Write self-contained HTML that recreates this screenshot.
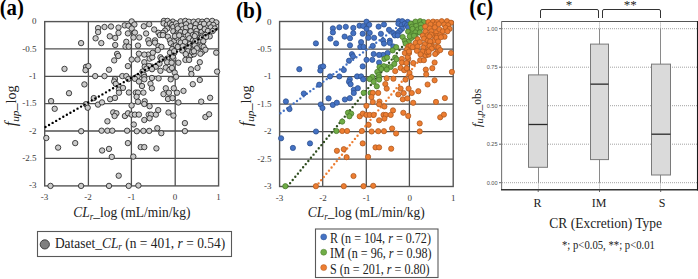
<!DOCTYPE html>
<html><head><meta charset="utf-8"><style>
html,body{margin:0;padding:0;background:#fff;width:698px;height:279px;overflow:hidden}
svg{display:block}
</style></head><body>
<svg width="698" height="279" viewBox="0 0 698 279" style="font-family:'Liberation Serif',serif">
<g transform="translate(-0.3,15) scale(1,1.12)"><text x="0" y="0" font-size="20.8" font-weight="bold" fill="#000">(a)</text></g>
<line x1="88.40" y1="21.6" x2="88.40" y2="185.9" stroke="#505050" stroke-width="1.3"/>
<line x1="131.40" y1="21.6" x2="131.40" y2="185.9" stroke="#505050" stroke-width="1.3"/>
<line x1="175.20" y1="21.6" x2="175.20" y2="185.9" stroke="#505050" stroke-width="1.3"/>
<line x1="44.7" y1="48.90" x2="218.6" y2="48.90" stroke="#505050" stroke-width="1.3"/>
<line x1="44.7" y1="76.30" x2="218.6" y2="76.30" stroke="#505050" stroke-width="1.3"/>
<line x1="44.7" y1="103.60" x2="218.6" y2="103.60" stroke="#505050" stroke-width="1.3"/>
<line x1="44.7" y1="131.00" x2="218.6" y2="131.00" stroke="#505050" stroke-width="1.3"/>
<line x1="44.7" y1="158.40" x2="218.6" y2="158.40" stroke="#505050" stroke-width="1.3"/>
<rect x="44.7" y="21.6" width="173.89999999999998" height="164.3" fill="none" stroke="#555" stroke-width="1.4"/>
<text x="36.5" y="24.20" text-anchor="end" font-size="9" fill="#3a3a3a">0</text>
<text x="36.5" y="51.53" text-anchor="end" font-size="9" fill="#3a3a3a">-0.5</text>
<text x="36.5" y="78.87" text-anchor="end" font-size="9" fill="#3a3a3a">-1</text>
<text x="36.5" y="106.20" text-anchor="end" font-size="9" fill="#3a3a3a">-1.5</text>
<text x="36.5" y="133.53" text-anchor="end" font-size="9" fill="#3a3a3a">-2</text>
<text x="36.5" y="160.87" text-anchor="end" font-size="9" fill="#3a3a3a">-2.5</text>
<text x="36.5" y="188.20" text-anchor="end" font-size="9" fill="#3a3a3a">-3</text>
<text x="44.50" y="199.8" text-anchor="middle" font-size="9" fill="#3a3a3a">-3</text>
<text x="88.00" y="199.8" text-anchor="middle" font-size="9" fill="#3a3a3a">-2</text>
<text x="131.50" y="199.8" text-anchor="middle" font-size="9" fill="#3a3a3a">-1</text>
<text x="175.00" y="199.8" text-anchor="middle" font-size="9" fill="#3a3a3a">0</text>
<text x="218.50" y="199.8" text-anchor="middle" font-size="9" fill="#3a3a3a">1</text>
<circle cx="81.1" cy="43.1" r="2.7" fill="#cacaca" stroke="#262626" stroke-width="0.85"/>
<circle cx="98.1" cy="28.1" r="2.7" fill="#cacaca" stroke="#262626" stroke-width="0.85"/>
<circle cx="98.1" cy="32.1" r="2.7" fill="#cacaca" stroke="#262626" stroke-width="0.85"/>
<circle cx="104.5" cy="27.0" r="2.7" fill="#cacaca" stroke="#262626" stroke-width="0.85"/>
<circle cx="111.0" cy="26.5" r="2.7" fill="#cacaca" stroke="#262626" stroke-width="0.85"/>
<circle cx="118.5" cy="27.6" r="2.7" fill="#cacaca" stroke="#262626" stroke-width="0.85"/>
<circle cx="118.5" cy="32.9" r="2.7" fill="#cacaca" stroke="#262626" stroke-width="0.85"/>
<circle cx="95.6" cy="38.3" r="2.7" fill="#cacaca" stroke="#262626" stroke-width="0.85"/>
<circle cx="101.3" cy="43.1" r="2.7" fill="#cacaca" stroke="#262626" stroke-width="0.85"/>
<circle cx="109.8" cy="36.3" r="2.7" fill="#cacaca" stroke="#262626" stroke-width="0.85"/>
<circle cx="115.2" cy="37.9" r="2.7" fill="#cacaca" stroke="#262626" stroke-width="0.85"/>
<circle cx="115.2" cy="45.0" r="2.7" fill="#cacaca" stroke="#262626" stroke-width="0.85"/>
<circle cx="124.7" cy="25.4" r="2.7" fill="#cacaca" stroke="#262626" stroke-width="0.85"/>
<circle cx="128.4" cy="25.7" r="2.7" fill="#cacaca" stroke="#262626" stroke-width="0.85"/>
<circle cx="127.9" cy="33.4" r="2.7" fill="#cacaca" stroke="#262626" stroke-width="0.85"/>
<circle cx="126.3" cy="41.8" r="2.7" fill="#cacaca" stroke="#262626" stroke-width="0.85"/>
<circle cx="125.5" cy="46.6" r="2.7" fill="#cacaca" stroke="#262626" stroke-width="0.85"/>
<circle cx="128.7" cy="46.6" r="2.7" fill="#cacaca" stroke="#262626" stroke-width="0.85"/>
<circle cx="117.1" cy="53.9" r="2.7" fill="#cacaca" stroke="#262626" stroke-width="0.85"/>
<circle cx="118.2" cy="56.0" r="2.7" fill="#cacaca" stroke="#262626" stroke-width="0.85"/>
<circle cx="114.2" cy="60.4" r="2.7" fill="#cacaca" stroke="#262626" stroke-width="0.85"/>
<circle cx="131.7" cy="21.4" r="2.7" fill="#cacaca" stroke="#262626" stroke-width="0.85"/>
<circle cx="134.4" cy="24.5" r="2.7" fill="#cacaca" stroke="#262626" stroke-width="0.85"/>
<circle cx="131.7" cy="28.5" r="2.7" fill="#cacaca" stroke="#262626" stroke-width="0.85"/>
<circle cx="134.9" cy="32.6" r="2.7" fill="#cacaca" stroke="#262626" stroke-width="0.85"/>
<circle cx="133.5" cy="37.5" r="2.7" fill="#cacaca" stroke="#262626" stroke-width="0.85"/>
<circle cx="139.3" cy="37.5" r="2.7" fill="#cacaca" stroke="#262626" stroke-width="0.85"/>
<circle cx="143.8" cy="26.3" r="2.7" fill="#cacaca" stroke="#262626" stroke-width="0.85"/>
<circle cx="146.1" cy="33.5" r="2.7" fill="#cacaca" stroke="#262626" stroke-width="0.85"/>
<circle cx="148.3" cy="40.2" r="2.7" fill="#cacaca" stroke="#262626" stroke-width="0.85"/>
<circle cx="172.8" cy="21.6" r="2.7" fill="#cacaca" stroke="#262626" stroke-width="0.85"/>
<circle cx="64.5" cy="68.9" r="2.7" fill="#cacaca" stroke="#262626" stroke-width="0.85"/>
<circle cx="86.0" cy="66.9" r="2.7" fill="#cacaca" stroke="#262626" stroke-width="0.85"/>
<circle cx="88.4" cy="66.1" r="2.7" fill="#cacaca" stroke="#262626" stroke-width="0.85"/>
<circle cx="85.5" cy="70.2" r="2.7" fill="#cacaca" stroke="#262626" stroke-width="0.85"/>
<circle cx="84.4" cy="84.4" r="2.7" fill="#cacaca" stroke="#262626" stroke-width="0.85"/>
<circle cx="69.0" cy="93.2" r="2.7" fill="#cacaca" stroke="#262626" stroke-width="0.85"/>
<circle cx="95.2" cy="76.1" r="2.7" fill="#cacaca" stroke="#262626" stroke-width="0.85"/>
<circle cx="104.5" cy="76.1" r="2.7" fill="#cacaca" stroke="#262626" stroke-width="0.85"/>
<circle cx="109.0" cy="69.7" r="2.7" fill="#cacaca" stroke="#262626" stroke-width="0.85"/>
<circle cx="127.9" cy="66.1" r="2.7" fill="#cacaca" stroke="#262626" stroke-width="0.85"/>
<circle cx="122.3" cy="76.1" r="2.7" fill="#cacaca" stroke="#262626" stroke-width="0.85"/>
<circle cx="126.3" cy="76.1" r="2.7" fill="#cacaca" stroke="#262626" stroke-width="0.85"/>
<circle cx="115.0" cy="79.0" r="2.7" fill="#cacaca" stroke="#262626" stroke-width="0.85"/>
<circle cx="114.2" cy="81.5" r="2.7" fill="#cacaca" stroke="#262626" stroke-width="0.85"/>
<circle cx="115.8" cy="83.9" r="2.7" fill="#cacaca" stroke="#262626" stroke-width="0.85"/>
<circle cx="119.0" cy="89.5" r="2.7" fill="#cacaca" stroke="#262626" stroke-width="0.85"/>
<circle cx="123.0" cy="87.9" r="2.7" fill="#cacaca" stroke="#262626" stroke-width="0.85"/>
<circle cx="119.0" cy="92.7" r="2.7" fill="#cacaca" stroke="#262626" stroke-width="0.85"/>
<circle cx="128.4" cy="79.0" r="2.7" fill="#cacaca" stroke="#262626" stroke-width="0.85"/>
<circle cx="138.0" cy="45.6" r="2.7" fill="#cacaca" stroke="#262626" stroke-width="0.85"/>
<circle cx="148.3" cy="54.6" r="2.7" fill="#cacaca" stroke="#262626" stroke-width="0.85"/>
<circle cx="144.3" cy="54.6" r="2.7" fill="#cacaca" stroke="#262626" stroke-width="0.85"/>
<circle cx="138.9" cy="53.7" r="2.7" fill="#cacaca" stroke="#262626" stroke-width="0.85"/>
<circle cx="137.5" cy="59.5" r="2.7" fill="#cacaca" stroke="#262626" stroke-width="0.85"/>
<circle cx="131.7" cy="59.5" r="2.7" fill="#cacaca" stroke="#262626" stroke-width="0.85"/>
<circle cx="149.6" cy="58.6" r="2.7" fill="#cacaca" stroke="#262626" stroke-width="0.85"/>
<circle cx="152.3" cy="57.3" r="2.7" fill="#cacaca" stroke="#262626" stroke-width="0.85"/>
<circle cx="160.4" cy="57.3" r="2.7" fill="#cacaca" stroke="#262626" stroke-width="0.85"/>
<circle cx="161.7" cy="59.0" r="2.7" fill="#cacaca" stroke="#262626" stroke-width="0.85"/>
<circle cx="167.1" cy="58.6" r="2.7" fill="#cacaca" stroke="#262626" stroke-width="0.85"/>
<circle cx="173.4" cy="58.6" r="2.7" fill="#cacaca" stroke="#262626" stroke-width="0.85"/>
<circle cx="144.3" cy="62.2" r="2.7" fill="#cacaca" stroke="#262626" stroke-width="0.85"/>
<circle cx="172.8" cy="56.6" r="2.7" fill="#cacaca" stroke="#262626" stroke-width="0.85"/>
<circle cx="191.0" cy="55.2" r="2.7" fill="#cacaca" stroke="#262626" stroke-width="0.85"/>
<circle cx="193.8" cy="54.3" r="2.7" fill="#cacaca" stroke="#262626" stroke-width="0.85"/>
<circle cx="185.4" cy="59.9" r="2.7" fill="#cacaca" stroke="#262626" stroke-width="0.85"/>
<circle cx="189.1" cy="59.9" r="2.7" fill="#cacaca" stroke="#262626" stroke-width="0.85"/>
<circle cx="199.8" cy="62.2" r="2.7" fill="#cacaca" stroke="#262626" stroke-width="0.85"/>
<circle cx="178.4" cy="62.7" r="2.7" fill="#cacaca" stroke="#262626" stroke-width="0.85"/>
<circle cx="144.7" cy="66.7" r="2.7" fill="#cacaca" stroke="#262626" stroke-width="0.85"/>
<circle cx="151.9" cy="66.7" r="2.7" fill="#cacaca" stroke="#262626" stroke-width="0.85"/>
<circle cx="155.9" cy="66.7" r="2.7" fill="#cacaca" stroke="#262626" stroke-width="0.85"/>
<circle cx="159.5" cy="63.6" r="2.7" fill="#cacaca" stroke="#262626" stroke-width="0.85"/>
<circle cx="167.1" cy="62.2" r="2.7" fill="#cacaca" stroke="#262626" stroke-width="0.85"/>
<circle cx="171.6" cy="62.7" r="2.7" fill="#cacaca" stroke="#262626" stroke-width="0.85"/>
<circle cx="165.8" cy="67.6" r="2.7" fill="#cacaca" stroke="#262626" stroke-width="0.85"/>
<circle cx="169.4" cy="69.9" r="2.7" fill="#cacaca" stroke="#262626" stroke-width="0.85"/>
<circle cx="160.4" cy="70.8" r="2.7" fill="#cacaca" stroke="#262626" stroke-width="0.85"/>
<circle cx="142.5" cy="71.6" r="2.7" fill="#cacaca" stroke="#262626" stroke-width="0.85"/>
<circle cx="143.8" cy="74.8" r="2.7" fill="#cacaca" stroke="#262626" stroke-width="0.85"/>
<circle cx="144.3" cy="77.0" r="2.7" fill="#cacaca" stroke="#262626" stroke-width="0.85"/>
<circle cx="144.3" cy="79.3" r="2.7" fill="#cacaca" stroke="#262626" stroke-width="0.85"/>
<circle cx="137.5" cy="76.6" r="2.7" fill="#cacaca" stroke="#262626" stroke-width="0.85"/>
<circle cx="134.9" cy="78.8" r="2.7" fill="#cacaca" stroke="#262626" stroke-width="0.85"/>
<circle cx="138.9" cy="81.5" r="2.7" fill="#cacaca" stroke="#262626" stroke-width="0.85"/>
<circle cx="151.9" cy="78.0" r="2.7" fill="#cacaca" stroke="#262626" stroke-width="0.85"/>
<circle cx="158.6" cy="78.4" r="2.7" fill="#cacaca" stroke="#262626" stroke-width="0.85"/>
<circle cx="170.7" cy="79.3" r="2.7" fill="#cacaca" stroke="#262626" stroke-width="0.85"/>
<circle cx="150.5" cy="83.7" r="2.7" fill="#cacaca" stroke="#262626" stroke-width="0.85"/>
<circle cx="197.5" cy="67.9" r="2.7" fill="#cacaca" stroke="#262626" stroke-width="0.85"/>
<circle cx="191.0" cy="69.3" r="2.7" fill="#cacaca" stroke="#262626" stroke-width="0.85"/>
<circle cx="191.4" cy="74.0" r="2.7" fill="#cacaca" stroke="#262626" stroke-width="0.85"/>
<circle cx="217.1" cy="71.6" r="2.7" fill="#cacaca" stroke="#262626" stroke-width="0.85"/>
<circle cx="174.7" cy="72.6" r="2.7" fill="#cacaca" stroke="#262626" stroke-width="0.85"/>
<circle cx="171.9" cy="67.9" r="2.7" fill="#cacaca" stroke="#262626" stroke-width="0.85"/>
<circle cx="176.1" cy="76.8" r="2.7" fill="#cacaca" stroke="#262626" stroke-width="0.85"/>
<circle cx="199.8" cy="80.0" r="2.7" fill="#cacaca" stroke="#262626" stroke-width="0.85"/>
<circle cx="192.8" cy="84.2" r="2.7" fill="#cacaca" stroke="#262626" stroke-width="0.85"/>
<circle cx="51.1" cy="101.1" r="2.7" fill="#cacaca" stroke="#262626" stroke-width="0.85"/>
<circle cx="54.7" cy="108.8" r="2.7" fill="#cacaca" stroke="#262626" stroke-width="0.85"/>
<circle cx="93.8" cy="98.1" r="2.7" fill="#cacaca" stroke="#262626" stroke-width="0.85"/>
<circle cx="98.0" cy="104.6" r="2.7" fill="#cacaca" stroke="#262626" stroke-width="0.85"/>
<circle cx="102.0" cy="102.4" r="2.7" fill="#cacaca" stroke="#262626" stroke-width="0.85"/>
<circle cx="110.1" cy="99.2" r="2.7" fill="#cacaca" stroke="#262626" stroke-width="0.85"/>
<circle cx="115.0" cy="97.9" r="2.7" fill="#cacaca" stroke="#262626" stroke-width="0.85"/>
<circle cx="128.9" cy="92.5" r="2.7" fill="#cacaca" stroke="#262626" stroke-width="0.85"/>
<circle cx="131.6" cy="105.5" r="2.7" fill="#cacaca" stroke="#262626" stroke-width="0.85"/>
<circle cx="85.9" cy="104.2" r="2.7" fill="#cacaca" stroke="#262626" stroke-width="0.85"/>
<circle cx="87.7" cy="107.7" r="2.7" fill="#cacaca" stroke="#262626" stroke-width="0.85"/>
<circle cx="113.2" cy="112.4" r="2.7" fill="#cacaca" stroke="#262626" stroke-width="0.85"/>
<circle cx="116.4" cy="113.3" r="2.7" fill="#cacaca" stroke="#262626" stroke-width="0.85"/>
<circle cx="114.6" cy="116.0" r="2.7" fill="#cacaca" stroke="#262626" stroke-width="0.85"/>
<circle cx="124.9" cy="116.0" r="2.7" fill="#cacaca" stroke="#262626" stroke-width="0.85"/>
<circle cx="128.0" cy="113.3" r="2.7" fill="#cacaca" stroke="#262626" stroke-width="0.85"/>
<circle cx="131.6" cy="114.6" r="2.7" fill="#cacaca" stroke="#262626" stroke-width="0.85"/>
<circle cx="107.4" cy="121.3" r="2.7" fill="#cacaca" stroke="#262626" stroke-width="0.85"/>
<circle cx="133.8" cy="124.5" r="2.7" fill="#cacaca" stroke="#262626" stroke-width="0.85"/>
<circle cx="101.6" cy="130.7" r="2.7" fill="#cacaca" stroke="#262626" stroke-width="0.85"/>
<circle cx="107.4" cy="130.7" r="2.7" fill="#cacaca" stroke="#262626" stroke-width="0.85"/>
<circle cx="112.3" cy="130.7" r="2.7" fill="#cacaca" stroke="#262626" stroke-width="0.85"/>
<circle cx="127.1" cy="130.7" r="2.7" fill="#cacaca" stroke="#262626" stroke-width="0.85"/>
<circle cx="46.3" cy="138.0" r="2.7" fill="#cacaca" stroke="#262626" stroke-width="0.85"/>
<circle cx="81.2" cy="131.2" r="2.7" fill="#cacaca" stroke="#262626" stroke-width="0.85"/>
<circle cx="136.8" cy="131.2" r="2.7" fill="#cacaca" stroke="#262626" stroke-width="0.85"/>
<circle cx="142.0" cy="86.0" r="2.7" fill="#cacaca" stroke="#262626" stroke-width="0.85"/>
<circle cx="151.9" cy="88.3" r="2.7" fill="#cacaca" stroke="#262626" stroke-width="0.85"/>
<circle cx="135.8" cy="92.6" r="2.7" fill="#cacaca" stroke="#262626" stroke-width="0.85"/>
<circle cx="138.0" cy="92.6" r="2.7" fill="#cacaca" stroke="#262626" stroke-width="0.85"/>
<circle cx="143.4" cy="92.6" r="2.7" fill="#cacaca" stroke="#262626" stroke-width="0.85"/>
<circle cx="136.6" cy="96.8" r="2.7" fill="#cacaca" stroke="#262626" stroke-width="0.85"/>
<circle cx="138.0" cy="101.7" r="2.7" fill="#cacaca" stroke="#262626" stroke-width="0.85"/>
<circle cx="144.7" cy="101.3" r="2.7" fill="#cacaca" stroke="#262626" stroke-width="0.85"/>
<circle cx="144.3" cy="104.0" r="2.7" fill="#cacaca" stroke="#262626" stroke-width="0.85"/>
<circle cx="149.6" cy="106.2" r="2.7" fill="#cacaca" stroke="#262626" stroke-width="0.85"/>
<circle cx="165.8" cy="88.3" r="2.7" fill="#cacaca" stroke="#262626" stroke-width="0.85"/>
<circle cx="168.9" cy="92.8" r="2.7" fill="#cacaca" stroke="#262626" stroke-width="0.85"/>
<circle cx="163.5" cy="94.1" r="2.7" fill="#cacaca" stroke="#262626" stroke-width="0.85"/>
<circle cx="168.0" cy="99.0" r="2.7" fill="#cacaca" stroke="#262626" stroke-width="0.85"/>
<circle cx="172.5" cy="98.1" r="2.7" fill="#cacaca" stroke="#262626" stroke-width="0.85"/>
<circle cx="173.8" cy="88.3" r="2.7" fill="#cacaca" stroke="#262626" stroke-width="0.85"/>
<circle cx="177.0" cy="92.7" r="2.7" fill="#cacaca" stroke="#262626" stroke-width="0.85"/>
<circle cx="183.5" cy="90.9" r="2.7" fill="#cacaca" stroke="#262626" stroke-width="0.85"/>
<circle cx="178.4" cy="102.5" r="2.7" fill="#cacaca" stroke="#262626" stroke-width="0.85"/>
<circle cx="201.2" cy="101.6" r="2.7" fill="#cacaca" stroke="#262626" stroke-width="0.85"/>
<circle cx="210.1" cy="97.8" r="2.7" fill="#cacaca" stroke="#262626" stroke-width="0.85"/>
<circle cx="58.1" cy="147.6" r="2.7" fill="#cacaca" stroke="#262626" stroke-width="0.85"/>
<circle cx="75.2" cy="143.1" r="2.7" fill="#cacaca" stroke="#262626" stroke-width="0.85"/>
<circle cx="127.9" cy="143.1" r="2.7" fill="#cacaca" stroke="#262626" stroke-width="0.85"/>
<circle cx="102.1" cy="150.5" r="2.7" fill="#cacaca" stroke="#262626" stroke-width="0.85"/>
<circle cx="109.0" cy="148.9" r="2.7" fill="#cacaca" stroke="#262626" stroke-width="0.85"/>
<circle cx="111.8" cy="156.9" r="2.7" fill="#cacaca" stroke="#262626" stroke-width="0.85"/>
<circle cx="134.9" cy="114.6" r="2.7" fill="#cacaca" stroke="#262626" stroke-width="0.85"/>
<circle cx="138.9" cy="114.6" r="2.7" fill="#cacaca" stroke="#262626" stroke-width="0.85"/>
<circle cx="148.7" cy="114.6" r="2.7" fill="#cacaca" stroke="#262626" stroke-width="0.85"/>
<circle cx="151.0" cy="114.6" r="2.7" fill="#cacaca" stroke="#262626" stroke-width="0.85"/>
<circle cx="155.9" cy="114.6" r="2.7" fill="#cacaca" stroke="#262626" stroke-width="0.85"/>
<circle cx="158.2" cy="110.1" r="2.7" fill="#cacaca" stroke="#262626" stroke-width="0.85"/>
<circle cx="149.6" cy="118.3" r="2.7" fill="#cacaca" stroke="#262626" stroke-width="0.85"/>
<circle cx="144.3" cy="120.0" r="2.7" fill="#cacaca" stroke="#262626" stroke-width="0.85"/>
<circle cx="168.5" cy="112.5" r="2.7" fill="#cacaca" stroke="#262626" stroke-width="0.85"/>
<circle cx="173.4" cy="115.6" r="2.7" fill="#cacaca" stroke="#262626" stroke-width="0.85"/>
<circle cx="157.3" cy="128.2" r="2.7" fill="#cacaca" stroke="#262626" stroke-width="0.85"/>
<circle cx="184.9" cy="123.1" r="2.7" fill="#cacaca" stroke="#262626" stroke-width="0.85"/>
<circle cx="205.4" cy="117.0" r="2.7" fill="#cacaca" stroke="#262626" stroke-width="0.85"/>
<circle cx="209.1" cy="114.3" r="2.7" fill="#cacaca" stroke="#262626" stroke-width="0.85"/>
<circle cx="143.4" cy="130.9" r="2.7" fill="#cacaca" stroke="#262626" stroke-width="0.85"/>
<circle cx="149.2" cy="130.9" r="2.7" fill="#cacaca" stroke="#262626" stroke-width="0.85"/>
<circle cx="161.3" cy="133.2" r="2.7" fill="#cacaca" stroke="#262626" stroke-width="0.85"/>
<circle cx="140.7" cy="147.1" r="2.7" fill="#cacaca" stroke="#262626" stroke-width="0.85"/>
<circle cx="144.3" cy="147.1" r="2.7" fill="#cacaca" stroke="#262626" stroke-width="0.85"/>
<circle cx="156.4" cy="148.4" r="2.7" fill="#cacaca" stroke="#262626" stroke-width="0.85"/>
<circle cx="184.9" cy="131.1" r="2.7" fill="#cacaca" stroke="#262626" stroke-width="0.85"/>
<circle cx="50.5" cy="185.9" r="2.7" fill="#cacaca" stroke="#262626" stroke-width="0.85"/>
<circle cx="81.1" cy="185.9" r="2.7" fill="#cacaca" stroke="#262626" stroke-width="0.85"/>
<circle cx="109.0" cy="185.9" r="2.7" fill="#cacaca" stroke="#262626" stroke-width="0.85"/>
<circle cx="128.7" cy="185.9" r="2.7" fill="#cacaca" stroke="#262626" stroke-width="0.85"/>
<circle cx="118.7" cy="175.7" r="2.7" fill="#cacaca" stroke="#262626" stroke-width="0.85"/>
<circle cx="133.3" cy="156.6" r="2.7" fill="#cacaca" stroke="#262626" stroke-width="0.85"/>
<circle cx="138.4" cy="185.5" r="2.7" fill="#cacaca" stroke="#262626" stroke-width="0.85"/>
<circle cx="163.9" cy="20.9" r="2.7" fill="#cacaca" stroke="#262626" stroke-width="0.85"/>
<circle cx="167.5" cy="20.9" r="2.7" fill="#cacaca" stroke="#262626" stroke-width="0.85"/>
<circle cx="163.6" cy="23.4" r="2.7" fill="#cacaca" stroke="#262626" stroke-width="0.85"/>
<circle cx="166.8" cy="24.9" r="2.7" fill="#cacaca" stroke="#262626" stroke-width="0.85"/>
<circle cx="170.0" cy="23.4" r="2.7" fill="#cacaca" stroke="#262626" stroke-width="0.85"/>
<circle cx="172.2" cy="24.9" r="2.7" fill="#cacaca" stroke="#262626" stroke-width="0.85"/>
<circle cx="173.3" cy="27.0" r="2.7" fill="#cacaca" stroke="#262626" stroke-width="0.85"/>
<circle cx="167.2" cy="28.5" r="2.7" fill="#cacaca" stroke="#262626" stroke-width="0.85"/>
<circle cx="165.0" cy="30.6" r="2.7" fill="#cacaca" stroke="#262626" stroke-width="0.85"/>
<circle cx="162.9" cy="32.8" r="2.7" fill="#cacaca" stroke="#262626" stroke-width="0.85"/>
<circle cx="158.5" cy="32.8" r="2.7" fill="#cacaca" stroke="#262626" stroke-width="0.85"/>
<circle cx="154.2" cy="29.5" r="2.7" fill="#cacaca" stroke="#262626" stroke-width="0.85"/>
<circle cx="149.2" cy="24.2" r="2.7" fill="#cacaca" stroke="#262626" stroke-width="0.85"/>
<circle cx="176.1" cy="23.4" r="2.7" fill="#cacaca" stroke="#262626" stroke-width="0.85"/>
<circle cx="177.2" cy="26.3" r="2.7" fill="#cacaca" stroke="#262626" stroke-width="0.85"/>
<circle cx="173.3" cy="31.3" r="2.7" fill="#cacaca" stroke="#262626" stroke-width="0.85"/>
<circle cx="176.5" cy="34.2" r="2.7" fill="#cacaca" stroke="#262626" stroke-width="0.85"/>
<circle cx="167.9" cy="36.7" r="2.7" fill="#cacaca" stroke="#262626" stroke-width="0.85"/>
<circle cx="177.9" cy="30.6" r="2.7" fill="#cacaca" stroke="#262626" stroke-width="0.85"/>
<circle cx="180.7" cy="21.3" r="2.7" fill="#cacaca" stroke="#262626" stroke-width="0.85"/>
<circle cx="185.3" cy="20.9" r="2.7" fill="#cacaca" stroke="#262626" stroke-width="0.85"/>
<circle cx="188.9" cy="21.7" r="2.7" fill="#cacaca" stroke="#262626" stroke-width="0.85"/>
<circle cx="181.4" cy="25.6" r="2.7" fill="#cacaca" stroke="#262626" stroke-width="0.85"/>
<circle cx="186.1" cy="24.2" r="2.7" fill="#cacaca" stroke="#262626" stroke-width="0.85"/>
<circle cx="177.8" cy="28.5" r="2.7" fill="#cacaca" stroke="#262626" stroke-width="0.85"/>
<circle cx="182.8" cy="29.2" r="2.7" fill="#cacaca" stroke="#262626" stroke-width="0.85"/>
<circle cx="186.1" cy="27.7" r="2.7" fill="#cacaca" stroke="#262626" stroke-width="0.85"/>
<circle cx="180.7" cy="32.1" r="2.7" fill="#cacaca" stroke="#262626" stroke-width="0.85"/>
<circle cx="185.0" cy="32.1" r="2.7" fill="#cacaca" stroke="#262626" stroke-width="0.85"/>
<circle cx="180.7" cy="35.7" r="2.7" fill="#cacaca" stroke="#262626" stroke-width="0.85"/>
<circle cx="193.6" cy="21.7" r="2.7" fill="#cacaca" stroke="#262626" stroke-width="0.85"/>
<circle cx="198.3" cy="21.3" r="2.7" fill="#cacaca" stroke="#262626" stroke-width="0.85"/>
<circle cx="202.2" cy="21.7" r="2.7" fill="#cacaca" stroke="#262626" stroke-width="0.85"/>
<circle cx="195.8" cy="24.2" r="2.7" fill="#cacaca" stroke="#262626" stroke-width="0.85"/>
<circle cx="200.8" cy="24.2" r="2.7" fill="#cacaca" stroke="#262626" stroke-width="0.85"/>
<circle cx="190.4" cy="26.3" r="2.7" fill="#cacaca" stroke="#262626" stroke-width="0.85"/>
<circle cx="195.0" cy="28.1" r="2.7" fill="#cacaca" stroke="#262626" stroke-width="0.85"/>
<circle cx="200.1" cy="27.0" r="2.7" fill="#cacaca" stroke="#262626" stroke-width="0.85"/>
<circle cx="190.7" cy="31.3" r="2.7" fill="#cacaca" stroke="#262626" stroke-width="0.85"/>
<circle cx="196.5" cy="31.0" r="2.7" fill="#cacaca" stroke="#262626" stroke-width="0.85"/>
<circle cx="201.5" cy="32.1" r="2.7" fill="#cacaca" stroke="#262626" stroke-width="0.85"/>
<circle cx="187.9" cy="35.3" r="2.7" fill="#cacaca" stroke="#262626" stroke-width="0.85"/>
<circle cx="192.9" cy="34.9" r="2.7" fill="#cacaca" stroke="#262626" stroke-width="0.85"/>
<circle cx="197.9" cy="34.9" r="2.7" fill="#cacaca" stroke="#262626" stroke-width="0.85"/>
<circle cx="202.2" cy="35.7" r="2.7" fill="#cacaca" stroke="#262626" stroke-width="0.85"/>
<circle cx="206.9" cy="20.9" r="2.7" fill="#cacaca" stroke="#262626" stroke-width="0.85"/>
<circle cx="212.2" cy="20.9" r="2.7" fill="#cacaca" stroke="#262626" stroke-width="0.85"/>
<circle cx="216.2" cy="22.4" r="2.7" fill="#cacaca" stroke="#262626" stroke-width="0.85"/>
<circle cx="204.0" cy="23.8" r="2.7" fill="#cacaca" stroke="#262626" stroke-width="0.85"/>
<circle cx="209.4" cy="24.2" r="2.7" fill="#cacaca" stroke="#262626" stroke-width="0.85"/>
<circle cx="213.3" cy="24.9" r="2.7" fill="#cacaca" stroke="#262626" stroke-width="0.85"/>
<circle cx="204.7" cy="29.2" r="2.7" fill="#cacaca" stroke="#262626" stroke-width="0.85"/>
<circle cx="210.8" cy="27.4" r="2.7" fill="#cacaca" stroke="#262626" stroke-width="0.85"/>
<circle cx="214.8" cy="28.5" r="2.7" fill="#cacaca" stroke="#262626" stroke-width="0.85"/>
<circle cx="207.9" cy="31.0" r="2.7" fill="#cacaca" stroke="#262626" stroke-width="0.85"/>
<circle cx="212.6" cy="31.0" r="2.7" fill="#cacaca" stroke="#262626" stroke-width="0.85"/>
<circle cx="196.1" cy="34.2" r="2.7" fill="#cacaca" stroke="#262626" stroke-width="0.85"/>
<circle cx="205.4" cy="34.9" r="2.7" fill="#cacaca" stroke="#262626" stroke-width="0.85"/>
<circle cx="209.7" cy="36.4" r="2.7" fill="#cacaca" stroke="#262626" stroke-width="0.85"/>
<circle cx="160.0" cy="35.1" r="2.7" fill="#cacaca" stroke="#262626" stroke-width="0.85"/>
<circle cx="162.9" cy="35.1" r="2.7" fill="#cacaca" stroke="#262626" stroke-width="0.85"/>
<circle cx="155.0" cy="40.4" r="2.7" fill="#cacaca" stroke="#262626" stroke-width="0.85"/>
<circle cx="155.0" cy="42.6" r="2.7" fill="#cacaca" stroke="#262626" stroke-width="0.85"/>
<circle cx="149.2" cy="43.3" r="2.7" fill="#cacaca" stroke="#262626" stroke-width="0.85"/>
<circle cx="158.5" cy="46.2" r="2.7" fill="#cacaca" stroke="#262626" stroke-width="0.85"/>
<circle cx="152.8" cy="52.7" r="2.7" fill="#cacaca" stroke="#262626" stroke-width="0.85"/>
<circle cx="170.0" cy="40.4" r="2.7" fill="#cacaca" stroke="#262626" stroke-width="0.85"/>
<circle cx="174.0" cy="41.2" r="2.7" fill="#cacaca" stroke="#262626" stroke-width="0.85"/>
<circle cx="176.5" cy="37.6" r="2.7" fill="#cacaca" stroke="#262626" stroke-width="0.85"/>
<circle cx="170.8" cy="43.3" r="2.7" fill="#cacaca" stroke="#262626" stroke-width="0.85"/>
<circle cx="161.4" cy="46.9" r="2.7" fill="#cacaca" stroke="#262626" stroke-width="0.85"/>
<circle cx="157.8" cy="50.1" r="2.7" fill="#cacaca" stroke="#262626" stroke-width="0.85"/>
<circle cx="173.6" cy="46.2" r="2.7" fill="#cacaca" stroke="#262626" stroke-width="0.85"/>
<circle cx="175.8" cy="45.5" r="2.7" fill="#cacaca" stroke="#262626" stroke-width="0.85"/>
<circle cx="172.2" cy="49.1" r="2.7" fill="#cacaca" stroke="#262626" stroke-width="0.85"/>
<circle cx="170.0" cy="52.7" r="2.7" fill="#cacaca" stroke="#262626" stroke-width="0.85"/>
<circle cx="174.3" cy="52.7" r="2.7" fill="#cacaca" stroke="#262626" stroke-width="0.85"/>
<circle cx="174.9" cy="36.1" r="2.7" fill="#cacaca" stroke="#262626" stroke-width="0.85"/>
<circle cx="179.2" cy="35.4" r="2.7" fill="#cacaca" stroke="#262626" stroke-width="0.85"/>
<circle cx="182.8" cy="39.0" r="2.7" fill="#cacaca" stroke="#262626" stroke-width="0.85"/>
<circle cx="189.3" cy="38.3" r="2.7" fill="#cacaca" stroke="#262626" stroke-width="0.85"/>
<circle cx="192.9" cy="40.4" r="2.7" fill="#cacaca" stroke="#262626" stroke-width="0.85"/>
<circle cx="199.3" cy="40.4" r="2.7" fill="#cacaca" stroke="#262626" stroke-width="0.85"/>
<circle cx="180.7" cy="42.6" r="2.7" fill="#cacaca" stroke="#262626" stroke-width="0.85"/>
<circle cx="185.0" cy="41.9" r="2.7" fill="#cacaca" stroke="#262626" stroke-width="0.85"/>
<circle cx="190.0" cy="44.0" r="2.7" fill="#cacaca" stroke="#262626" stroke-width="0.85"/>
<circle cx="195.0" cy="43.3" r="2.7" fill="#cacaca" stroke="#262626" stroke-width="0.85"/>
<circle cx="197.2" cy="46.2" r="2.7" fill="#cacaca" stroke="#262626" stroke-width="0.85"/>
<circle cx="177.8" cy="46.9" r="2.7" fill="#cacaca" stroke="#262626" stroke-width="0.85"/>
<circle cx="182.8" cy="46.2" r="2.7" fill="#cacaca" stroke="#262626" stroke-width="0.85"/>
<circle cx="188.6" cy="47.3" r="2.7" fill="#cacaca" stroke="#262626" stroke-width="0.85"/>
<circle cx="193.6" cy="49.1" r="2.7" fill="#cacaca" stroke="#262626" stroke-width="0.85"/>
<circle cx="182.1" cy="50.5" r="2.7" fill="#cacaca" stroke="#262626" stroke-width="0.85"/>
<circle cx="187.9" cy="51.2" r="2.7" fill="#cacaca" stroke="#262626" stroke-width="0.85"/>
<circle cx="192.2" cy="51.9" r="2.7" fill="#cacaca" stroke="#262626" stroke-width="0.85"/>
<circle cx="174.2" cy="51.2" r="2.7" fill="#cacaca" stroke="#262626" stroke-width="0.85"/>
<circle cx="185.7" cy="54.1" r="2.7" fill="#cacaca" stroke="#262626" stroke-width="0.85"/>
<circle cx="201.5" cy="46.2" r="2.7" fill="#cacaca" stroke="#262626" stroke-width="0.85"/>
<circle cx="202.2" cy="51.9" r="2.7" fill="#cacaca" stroke="#262626" stroke-width="0.85"/>
<circle cx="194.7" cy="36.1" r="2.7" fill="#cacaca" stroke="#262626" stroke-width="0.85"/>
<circle cx="201.8" cy="37.6" r="2.7" fill="#cacaca" stroke="#262626" stroke-width="0.85"/>
<circle cx="206.1" cy="36.9" r="2.7" fill="#cacaca" stroke="#262626" stroke-width="0.85"/>
<circle cx="203.3" cy="41.2" r="2.7" fill="#cacaca" stroke="#262626" stroke-width="0.85"/>
<circle cx="195.4" cy="41.2" r="2.7" fill="#cacaca" stroke="#262626" stroke-width="0.85"/>
<circle cx="194.7" cy="45.5" r="2.7" fill="#cacaca" stroke="#262626" stroke-width="0.85"/>
<circle cx="196.8" cy="48.3" r="2.7" fill="#cacaca" stroke="#262626" stroke-width="0.85"/>
<circle cx="203.6" cy="46.9" r="2.7" fill="#cacaca" stroke="#262626" stroke-width="0.85"/>
<circle cx="205.4" cy="49.8" r="2.7" fill="#cacaca" stroke="#262626" stroke-width="0.85"/>
<circle cx="193.9" cy="51.2" r="2.7" fill="#cacaca" stroke="#262626" stroke-width="0.85"/>
<circle cx="200.4" cy="53.7" r="2.7" fill="#cacaca" stroke="#262626" stroke-width="0.85"/>
<circle cx="216.2" cy="52.7" r="2.7" fill="#cacaca" stroke="#262626" stroke-width="0.85"/>
<circle cx="149.0" cy="65.9" r="2.7" fill="#cacaca" stroke="#262626" stroke-width="0.85"/>
<circle cx="152.0" cy="69.2" r="2.7" fill="#cacaca" stroke="#262626" stroke-width="0.85"/>
<circle cx="146.5" cy="68.7" r="2.7" fill="#cacaca" stroke="#262626" stroke-width="0.85"/>
<line x1="45.5" y1="127.0" x2="218" y2="28.2" stroke="#000" stroke-width="2.4" stroke-dasharray="0 4.1" stroke-linecap="round"/>
<g transform="translate(73.3,217) scale(1,1.12)"><text x="0" y="0" font-size="13.5" fill="#222"><tspan font-style="italic">CL</tspan><tspan font-style="italic" font-size="9" dy="2.5">r</tspan><tspan dy="-2.5">_log (mL/min/kg)</tspan></text></g>
<text transform="translate(16.2,126.3) rotate(-90)" font-size="14.2" fill="#222"><tspan font-style="italic" font-size="16">f</tspan><tspan font-style="italic" font-size="11.3" dy="3">up</tspan><tspan dy="-3">_log</tspan></text>
<rect x="37.5" y="231.5" width="194" height="25" fill="#fff" stroke="#595959" stroke-width="1.1"/>
<circle cx="44.8" cy="244.4" r="4.6" fill="#7f7f7f" stroke="#333" stroke-width="0.9"/>
<g transform="translate(54.9,247.5) scale(1,1.12)"><text x="0" y="0" font-size="13.45" fill="#222">Dataset_<tspan font-style="italic">CL</tspan><tspan font-style="italic" font-size="9" dy="2.5">r</tspan><tspan dy="-2.5"> (n = 401, </tspan><tspan font-style="italic">r</tspan> = 0.54)</text></g>
<g transform="translate(236,18.4) scale(1,1.12)"><text x="0" y="0" font-size="21.3" font-weight="bold" fill="#000">(b)</text></g>
<line x1="322.70" y1="21.5" x2="322.70" y2="186.5" stroke="#505050" stroke-width="1.3"/>
<line x1="366.30" y1="21.5" x2="366.30" y2="186.5" stroke="#505050" stroke-width="1.3"/>
<line x1="409.40" y1="21.5" x2="409.40" y2="186.5" stroke="#505050" stroke-width="1.3"/>
<line x1="279.6" y1="49.10" x2="453.2" y2="49.10" stroke="#505050" stroke-width="1.3"/>
<line x1="279.6" y1="76.60" x2="453.2" y2="76.60" stroke="#505050" stroke-width="1.3"/>
<line x1="279.6" y1="104.20" x2="453.2" y2="104.20" stroke="#505050" stroke-width="1.3"/>
<line x1="279.6" y1="131.60" x2="453.2" y2="131.60" stroke="#505050" stroke-width="1.3"/>
<line x1="279.6" y1="159.10" x2="453.2" y2="159.10" stroke="#505050" stroke-width="1.3"/>
<rect x="279.6" y="21.5" width="173.59999999999997" height="165.0" fill="none" stroke="#555" stroke-width="1.4"/>
<text x="271.6" y="24.60" text-anchor="end" font-size="9" fill="#3a3a3a">0</text>
<text x="271.6" y="52.03" text-anchor="end" font-size="9" fill="#3a3a3a">-0.5</text>
<text x="271.6" y="79.47" text-anchor="end" font-size="9" fill="#3a3a3a">-1</text>
<text x="271.6" y="106.90" text-anchor="end" font-size="9" fill="#3a3a3a">-1.5</text>
<text x="271.6" y="134.33" text-anchor="end" font-size="9" fill="#3a3a3a">-2</text>
<text x="271.6" y="161.77" text-anchor="end" font-size="9" fill="#3a3a3a">-2.5</text>
<text x="271.6" y="189.20" text-anchor="end" font-size="9" fill="#3a3a3a">-3</text>
<text x="279.60" y="200.8" text-anchor="middle" font-size="9" fill="#3a3a3a">-3</text>
<text x="323.00" y="200.8" text-anchor="middle" font-size="9" fill="#3a3a3a">-2</text>
<text x="366.40" y="200.8" text-anchor="middle" font-size="9" fill="#3a3a3a">-1</text>
<text x="409.80" y="200.8" text-anchor="middle" font-size="9" fill="#3a3a3a">0</text>
<text x="453.20" y="200.8" text-anchor="middle" font-size="9" fill="#3a3a3a">1</text>
<line x1="280.5" y1="113.2" x2="405" y2="21.5" stroke="#4472C4" stroke-width="2.4" stroke-dasharray="0 4.1" stroke-linecap="round"/>
<line x1="287.5" y1="186.3" x2="423" y2="21.5" stroke="#2f4d1f" stroke-width="2.4" stroke-dasharray="0 4.1" stroke-linecap="round"/>
<line x1="316" y1="186.5" x2="453" y2="19.1" stroke="#ED7D31" stroke-width="2.4" stroke-dasharray="0 4.1" stroke-linecap="round"/>
<circle cx="315.9" cy="43.4" r="2.6" fill="#4472C4" stroke="#2f528f" stroke-width="0.8"/>
<circle cx="332.9" cy="28.4" r="2.6" fill="#4472C4" stroke="#2f528f" stroke-width="0.8"/>
<circle cx="332.9" cy="32.4" r="2.6" fill="#4472C4" stroke="#2f528f" stroke-width="0.8"/>
<circle cx="339.3" cy="27.3" r="2.6" fill="#4472C4" stroke="#2f528f" stroke-width="0.8"/>
<circle cx="345.8" cy="26.8" r="2.6" fill="#4472C4" stroke="#2f528f" stroke-width="0.8"/>
<circle cx="353.3" cy="27.9" r="2.6" fill="#4472C4" stroke="#2f528f" stroke-width="0.8"/>
<circle cx="353.3" cy="33.2" r="2.6" fill="#4472C4" stroke="#2f528f" stroke-width="0.8"/>
<circle cx="330.4" cy="38.6" r="2.6" fill="#4472C4" stroke="#2f528f" stroke-width="0.8"/>
<circle cx="336.1" cy="43.4" r="2.6" fill="#4472C4" stroke="#2f528f" stroke-width="0.8"/>
<circle cx="344.6" cy="36.6" r="2.6" fill="#4472C4" stroke="#2f528f" stroke-width="0.8"/>
<circle cx="350.0" cy="38.2" r="2.6" fill="#4472C4" stroke="#2f528f" stroke-width="0.8"/>
<circle cx="350.0" cy="45.3" r="2.6" fill="#4472C4" stroke="#2f528f" stroke-width="0.8"/>
<circle cx="359.5" cy="25.7" r="2.6" fill="#4472C4" stroke="#2f528f" stroke-width="0.8"/>
<circle cx="363.2" cy="26.0" r="2.6" fill="#4472C4" stroke="#2f528f" stroke-width="0.8"/>
<circle cx="362.7" cy="33.7" r="2.6" fill="#4472C4" stroke="#2f528f" stroke-width="0.8"/>
<circle cx="361.1" cy="42.1" r="2.6" fill="#4472C4" stroke="#2f528f" stroke-width="0.8"/>
<circle cx="360.3" cy="46.9" r="2.6" fill="#4472C4" stroke="#2f528f" stroke-width="0.8"/>
<circle cx="363.5" cy="46.9" r="2.6" fill="#4472C4" stroke="#2f528f" stroke-width="0.8"/>
<circle cx="351.9" cy="54.2" r="2.6" fill="#4472C4" stroke="#2f528f" stroke-width="0.8"/>
<circle cx="353.0" cy="56.3" r="2.6" fill="#4472C4" stroke="#2f528f" stroke-width="0.8"/>
<circle cx="349.0" cy="60.7" r="2.6" fill="#4472C4" stroke="#2f528f" stroke-width="0.8"/>
<circle cx="366.5" cy="21.7" r="2.6" fill="#4472C4" stroke="#2f528f" stroke-width="0.8"/>
<circle cx="369.2" cy="24.8" r="2.6" fill="#4472C4" stroke="#2f528f" stroke-width="0.8"/>
<circle cx="366.5" cy="28.8" r="2.6" fill="#4472C4" stroke="#2f528f" stroke-width="0.8"/>
<circle cx="369.7" cy="32.9" r="2.6" fill="#4472C4" stroke="#2f528f" stroke-width="0.8"/>
<circle cx="368.3" cy="37.8" r="2.6" fill="#4472C4" stroke="#2f528f" stroke-width="0.8"/>
<circle cx="374.1" cy="37.8" r="2.6" fill="#4472C4" stroke="#2f528f" stroke-width="0.8"/>
<circle cx="378.6" cy="26.6" r="2.6" fill="#4472C4" stroke="#2f528f" stroke-width="0.8"/>
<circle cx="380.9" cy="33.8" r="2.6" fill="#4472C4" stroke="#2f528f" stroke-width="0.8"/>
<circle cx="383.1" cy="40.5" r="2.6" fill="#4472C4" stroke="#2f528f" stroke-width="0.8"/>
<circle cx="407.6" cy="21.9" r="2.6" fill="#4472C4" stroke="#2f528f" stroke-width="0.8"/>
<circle cx="299.3" cy="69.2" r="2.6" fill="#4472C4" stroke="#2f528f" stroke-width="0.8"/>
<circle cx="320.8" cy="67.2" r="2.6" fill="#4472C4" stroke="#2f528f" stroke-width="0.8"/>
<circle cx="323.2" cy="66.4" r="2.6" fill="#4472C4" stroke="#2f528f" stroke-width="0.8"/>
<circle cx="320.3" cy="70.5" r="2.6" fill="#4472C4" stroke="#2f528f" stroke-width="0.8"/>
<circle cx="319.2" cy="84.7" r="2.6" fill="#4472C4" stroke="#2f528f" stroke-width="0.8"/>
<circle cx="303.8" cy="93.5" r="2.6" fill="#4472C4" stroke="#2f528f" stroke-width="0.8"/>
<circle cx="330.0" cy="76.4" r="2.6" fill="#4472C4" stroke="#2f528f" stroke-width="0.8"/>
<circle cx="339.3" cy="76.4" r="2.6" fill="#4472C4" stroke="#2f528f" stroke-width="0.8"/>
<circle cx="343.8" cy="70.0" r="2.6" fill="#4472C4" stroke="#2f528f" stroke-width="0.8"/>
<circle cx="362.7" cy="66.4" r="2.6" fill="#4472C4" stroke="#2f528f" stroke-width="0.8"/>
<circle cx="357.1" cy="76.4" r="2.6" fill="#4472C4" stroke="#2f528f" stroke-width="0.8"/>
<circle cx="361.1" cy="76.4" r="2.6" fill="#4472C4" stroke="#2f528f" stroke-width="0.8"/>
<circle cx="349.8" cy="79.3" r="2.6" fill="#4472C4" stroke="#2f528f" stroke-width="0.8"/>
<circle cx="349.0" cy="81.8" r="2.6" fill="#4472C4" stroke="#2f528f" stroke-width="0.8"/>
<circle cx="350.6" cy="84.2" r="2.6" fill="#4472C4" stroke="#2f528f" stroke-width="0.8"/>
<circle cx="353.8" cy="89.8" r="2.6" fill="#4472C4" stroke="#2f528f" stroke-width="0.8"/>
<circle cx="357.8" cy="88.2" r="2.6" fill="#4472C4" stroke="#2f528f" stroke-width="0.8"/>
<circle cx="353.8" cy="93.0" r="2.6" fill="#4472C4" stroke="#2f528f" stroke-width="0.8"/>
<circle cx="363.2" cy="79.3" r="2.6" fill="#4472C4" stroke="#2f528f" stroke-width="0.8"/>
<circle cx="372.8" cy="45.9" r="2.6" fill="#4472C4" stroke="#2f528f" stroke-width="0.8"/>
<circle cx="383.1" cy="54.9" r="2.6" fill="#4472C4" stroke="#2f528f" stroke-width="0.8"/>
<circle cx="379.1" cy="54.9" r="2.6" fill="#4472C4" stroke="#2f528f" stroke-width="0.8"/>
<circle cx="373.7" cy="54.0" r="2.6" fill="#4472C4" stroke="#2f528f" stroke-width="0.8"/>
<circle cx="372.3" cy="59.8" r="2.6" fill="#4472C4" stroke="#2f528f" stroke-width="0.8"/>
<circle cx="366.5" cy="59.8" r="2.6" fill="#4472C4" stroke="#2f528f" stroke-width="0.8"/>
<circle cx="379.1" cy="62.5" r="2.6" fill="#4472C4" stroke="#2f528f" stroke-width="0.8"/>
<circle cx="285.9" cy="101.4" r="2.6" fill="#4472C4" stroke="#2f528f" stroke-width="0.8"/>
<circle cx="289.5" cy="109.1" r="2.6" fill="#4472C4" stroke="#2f528f" stroke-width="0.8"/>
<circle cx="328.6" cy="98.4" r="2.6" fill="#4472C4" stroke="#2f528f" stroke-width="0.8"/>
<circle cx="332.8" cy="104.9" r="2.6" fill="#4472C4" stroke="#2f528f" stroke-width="0.8"/>
<circle cx="336.8" cy="102.7" r="2.6" fill="#4472C4" stroke="#2f528f" stroke-width="0.8"/>
<circle cx="344.9" cy="99.5" r="2.6" fill="#4472C4" stroke="#2f528f" stroke-width="0.8"/>
<circle cx="349.8" cy="98.2" r="2.6" fill="#4472C4" stroke="#2f528f" stroke-width="0.8"/>
<circle cx="320.7" cy="104.5" r="2.6" fill="#4472C4" stroke="#2f528f" stroke-width="0.8"/>
<circle cx="322.5" cy="108.0" r="2.6" fill="#4472C4" stroke="#2f528f" stroke-width="0.8"/>
<circle cx="281.1" cy="138.3" r="2.6" fill="#4472C4" stroke="#2f528f" stroke-width="0.8"/>
<circle cx="316.0" cy="131.5" r="2.6" fill="#4472C4" stroke="#2f528f" stroke-width="0.8"/>
<circle cx="292.9" cy="147.9" r="2.6" fill="#4472C4" stroke="#2f528f" stroke-width="0.8"/>
<circle cx="310.0" cy="143.4" r="2.6" fill="#4472C4" stroke="#2f528f" stroke-width="0.8"/>
<circle cx="398.7" cy="21.2" r="2.6" fill="#4472C4" stroke="#2f528f" stroke-width="0.8"/>
<circle cx="402.3" cy="21.2" r="2.6" fill="#4472C4" stroke="#2f528f" stroke-width="0.8"/>
<circle cx="398.4" cy="23.7" r="2.6" fill="#4472C4" stroke="#2f528f" stroke-width="0.8"/>
<circle cx="401.6" cy="25.2" r="2.6" fill="#4472C4" stroke="#2f528f" stroke-width="0.8"/>
<circle cx="404.8" cy="23.7" r="2.6" fill="#4472C4" stroke="#2f528f" stroke-width="0.8"/>
<circle cx="407.0" cy="25.2" r="2.6" fill="#4472C4" stroke="#2f528f" stroke-width="0.8"/>
<circle cx="408.1" cy="27.3" r="2.6" fill="#4472C4" stroke="#2f528f" stroke-width="0.8"/>
<circle cx="402.0" cy="28.8" r="2.6" fill="#4472C4" stroke="#2f528f" stroke-width="0.8"/>
<circle cx="399.8" cy="30.9" r="2.6" fill="#4472C4" stroke="#2f528f" stroke-width="0.8"/>
<circle cx="397.7" cy="33.1" r="2.6" fill="#4472C4" stroke="#2f528f" stroke-width="0.8"/>
<circle cx="393.3" cy="33.1" r="2.6" fill="#4472C4" stroke="#2f528f" stroke-width="0.8"/>
<circle cx="389.0" cy="29.8" r="2.6" fill="#4472C4" stroke="#2f528f" stroke-width="0.8"/>
<circle cx="384.0" cy="24.5" r="2.6" fill="#4472C4" stroke="#2f528f" stroke-width="0.8"/>
<circle cx="394.8" cy="35.4" r="2.6" fill="#4472C4" stroke="#2f528f" stroke-width="0.8"/>
<circle cx="397.7" cy="35.4" r="2.6" fill="#4472C4" stroke="#2f528f" stroke-width="0.8"/>
<circle cx="389.8" cy="40.7" r="2.6" fill="#4472C4" stroke="#2f528f" stroke-width="0.8"/>
<circle cx="389.8" cy="42.9" r="2.6" fill="#4472C4" stroke="#2f528f" stroke-width="0.8"/>
<circle cx="384.0" cy="43.6" r="2.6" fill="#4472C4" stroke="#2f528f" stroke-width="0.8"/>
<circle cx="393.3" cy="46.5" r="2.6" fill="#4472C4" stroke="#2f528f" stroke-width="0.8"/>
<circle cx="387.6" cy="53.0" r="2.6" fill="#4472C4" stroke="#2f528f" stroke-width="0.8"/>
<circle cx="384.4" cy="58.9" r="2.6" fill="#70AD47" stroke="#4a7a2c" stroke-width="0.8"/>
<circle cx="387.1" cy="57.6" r="2.6" fill="#70AD47" stroke="#4a7a2c" stroke-width="0.8"/>
<circle cx="395.2" cy="57.6" r="2.6" fill="#70AD47" stroke="#4a7a2c" stroke-width="0.8"/>
<circle cx="396.5" cy="59.3" r="2.6" fill="#70AD47" stroke="#4a7a2c" stroke-width="0.8"/>
<circle cx="379.5" cy="67.0" r="2.6" fill="#70AD47" stroke="#4a7a2c" stroke-width="0.8"/>
<circle cx="386.7" cy="67.0" r="2.6" fill="#70AD47" stroke="#4a7a2c" stroke-width="0.8"/>
<circle cx="390.7" cy="67.0" r="2.6" fill="#70AD47" stroke="#4a7a2c" stroke-width="0.8"/>
<circle cx="394.3" cy="63.9" r="2.6" fill="#70AD47" stroke="#4a7a2c" stroke-width="0.8"/>
<circle cx="377.3" cy="71.9" r="2.6" fill="#70AD47" stroke="#4a7a2c" stroke-width="0.8"/>
<circle cx="378.6" cy="75.1" r="2.6" fill="#70AD47" stroke="#4a7a2c" stroke-width="0.8"/>
<circle cx="379.1" cy="77.3" r="2.6" fill="#70AD47" stroke="#4a7a2c" stroke-width="0.8"/>
<circle cx="379.1" cy="79.6" r="2.6" fill="#70AD47" stroke="#4a7a2c" stroke-width="0.8"/>
<circle cx="372.3" cy="76.9" r="2.6" fill="#70AD47" stroke="#4a7a2c" stroke-width="0.8"/>
<circle cx="369.7" cy="79.1" r="2.6" fill="#70AD47" stroke="#4a7a2c" stroke-width="0.8"/>
<circle cx="373.7" cy="81.8" r="2.6" fill="#70AD47" stroke="#4a7a2c" stroke-width="0.8"/>
<circle cx="363.7" cy="92.8" r="2.6" fill="#70AD47" stroke="#4a7a2c" stroke-width="0.8"/>
<circle cx="348.0" cy="112.7" r="2.6" fill="#70AD47" stroke="#4a7a2c" stroke-width="0.8"/>
<circle cx="351.2" cy="113.6" r="2.6" fill="#70AD47" stroke="#4a7a2c" stroke-width="0.8"/>
<circle cx="349.4" cy="116.3" r="2.6" fill="#70AD47" stroke="#4a7a2c" stroke-width="0.8"/>
<circle cx="342.2" cy="121.6" r="2.6" fill="#70AD47" stroke="#4a7a2c" stroke-width="0.8"/>
<circle cx="336.4" cy="131.0" r="2.6" fill="#70AD47" stroke="#4a7a2c" stroke-width="0.8"/>
<circle cx="376.8" cy="86.3" r="2.6" fill="#70AD47" stroke="#4a7a2c" stroke-width="0.8"/>
<circle cx="370.6" cy="92.9" r="2.6" fill="#70AD47" stroke="#4a7a2c" stroke-width="0.8"/>
<circle cx="285.3" cy="186.2" r="2.6" fill="#70AD47" stroke="#4a7a2c" stroke-width="0.8"/>
<circle cx="410.9" cy="23.7" r="2.6" fill="#70AD47" stroke="#4a7a2c" stroke-width="0.8"/>
<circle cx="412.0" cy="26.6" r="2.6" fill="#70AD47" stroke="#4a7a2c" stroke-width="0.8"/>
<circle cx="408.1" cy="31.6" r="2.6" fill="#70AD47" stroke="#4a7a2c" stroke-width="0.8"/>
<circle cx="411.3" cy="34.5" r="2.6" fill="#70AD47" stroke="#4a7a2c" stroke-width="0.8"/>
<circle cx="402.7" cy="37.0" r="2.6" fill="#70AD47" stroke="#4a7a2c" stroke-width="0.8"/>
<circle cx="412.7" cy="30.9" r="2.6" fill="#70AD47" stroke="#4a7a2c" stroke-width="0.8"/>
<circle cx="415.5" cy="21.6" r="2.6" fill="#70AD47" stroke="#4a7a2c" stroke-width="0.8"/>
<circle cx="420.1" cy="21.2" r="2.6" fill="#70AD47" stroke="#4a7a2c" stroke-width="0.8"/>
<circle cx="423.7" cy="22.0" r="2.6" fill="#70AD47" stroke="#4a7a2c" stroke-width="0.8"/>
<circle cx="416.2" cy="25.9" r="2.6" fill="#70AD47" stroke="#4a7a2c" stroke-width="0.8"/>
<circle cx="420.9" cy="24.5" r="2.6" fill="#70AD47" stroke="#4a7a2c" stroke-width="0.8"/>
<circle cx="412.6" cy="28.8" r="2.6" fill="#70AD47" stroke="#4a7a2c" stroke-width="0.8"/>
<circle cx="417.6" cy="29.5" r="2.6" fill="#70AD47" stroke="#4a7a2c" stroke-width="0.8"/>
<circle cx="420.9" cy="28.0" r="2.6" fill="#70AD47" stroke="#4a7a2c" stroke-width="0.8"/>
<circle cx="415.5" cy="32.4" r="2.6" fill="#70AD47" stroke="#4a7a2c" stroke-width="0.8"/>
<circle cx="419.8" cy="32.4" r="2.6" fill="#70AD47" stroke="#4a7a2c" stroke-width="0.8"/>
<circle cx="415.5" cy="36.0" r="2.6" fill="#70AD47" stroke="#4a7a2c" stroke-width="0.8"/>
<circle cx="404.8" cy="40.7" r="2.6" fill="#70AD47" stroke="#4a7a2c" stroke-width="0.8"/>
<circle cx="408.8" cy="41.5" r="2.6" fill="#70AD47" stroke="#4a7a2c" stroke-width="0.8"/>
<circle cx="411.3" cy="37.9" r="2.6" fill="#70AD47" stroke="#4a7a2c" stroke-width="0.8"/>
<circle cx="405.6" cy="43.6" r="2.6" fill="#70AD47" stroke="#4a7a2c" stroke-width="0.8"/>
<circle cx="396.2" cy="47.2" r="2.6" fill="#70AD47" stroke="#4a7a2c" stroke-width="0.8"/>
<circle cx="392.6" cy="50.4" r="2.6" fill="#70AD47" stroke="#4a7a2c" stroke-width="0.8"/>
<circle cx="409.7" cy="36.4" r="2.6" fill="#70AD47" stroke="#4a7a2c" stroke-width="0.8"/>
<circle cx="414.0" cy="35.7" r="2.6" fill="#70AD47" stroke="#4a7a2c" stroke-width="0.8"/>
<circle cx="383.8" cy="66.2" r="2.6" fill="#70AD47" stroke="#4a7a2c" stroke-width="0.8"/>
<circle cx="386.8" cy="69.5" r="2.6" fill="#70AD47" stroke="#4a7a2c" stroke-width="0.8"/>
<circle cx="381.3" cy="69.0" r="2.6" fill="#70AD47" stroke="#4a7a2c" stroke-width="0.8"/>
<circle cx="401.9" cy="58.9" r="2.6" fill="#ED7D31" stroke="#ae5a21" stroke-width="0.8"/>
<circle cx="408.2" cy="58.9" r="2.6" fill="#ED7D31" stroke="#ae5a21" stroke-width="0.8"/>
<circle cx="407.6" cy="56.9" r="2.6" fill="#ED7D31" stroke="#ae5a21" stroke-width="0.8"/>
<circle cx="425.8" cy="55.5" r="2.6" fill="#ED7D31" stroke="#ae5a21" stroke-width="0.8"/>
<circle cx="428.6" cy="54.6" r="2.6" fill="#ED7D31" stroke="#ae5a21" stroke-width="0.8"/>
<circle cx="420.2" cy="60.2" r="2.6" fill="#ED7D31" stroke="#ae5a21" stroke-width="0.8"/>
<circle cx="423.9" cy="60.2" r="2.6" fill="#ED7D31" stroke="#ae5a21" stroke-width="0.8"/>
<circle cx="434.6" cy="62.5" r="2.6" fill="#ED7D31" stroke="#ae5a21" stroke-width="0.8"/>
<circle cx="413.2" cy="63.0" r="2.6" fill="#ED7D31" stroke="#ae5a21" stroke-width="0.8"/>
<circle cx="401.9" cy="62.5" r="2.6" fill="#ED7D31" stroke="#ae5a21" stroke-width="0.8"/>
<circle cx="406.4" cy="63.0" r="2.6" fill="#ED7D31" stroke="#ae5a21" stroke-width="0.8"/>
<circle cx="400.6" cy="67.9" r="2.6" fill="#ED7D31" stroke="#ae5a21" stroke-width="0.8"/>
<circle cx="404.2" cy="70.2" r="2.6" fill="#ED7D31" stroke="#ae5a21" stroke-width="0.8"/>
<circle cx="395.2" cy="71.1" r="2.6" fill="#ED7D31" stroke="#ae5a21" stroke-width="0.8"/>
<circle cx="386.7" cy="78.3" r="2.6" fill="#ED7D31" stroke="#ae5a21" stroke-width="0.8"/>
<circle cx="393.4" cy="78.7" r="2.6" fill="#ED7D31" stroke="#ae5a21" stroke-width="0.8"/>
<circle cx="405.5" cy="79.6" r="2.6" fill="#ED7D31" stroke="#ae5a21" stroke-width="0.8"/>
<circle cx="385.3" cy="84.0" r="2.6" fill="#ED7D31" stroke="#ae5a21" stroke-width="0.8"/>
<circle cx="432.3" cy="68.2" r="2.6" fill="#ED7D31" stroke="#ae5a21" stroke-width="0.8"/>
<circle cx="425.8" cy="69.6" r="2.6" fill="#ED7D31" stroke="#ae5a21" stroke-width="0.8"/>
<circle cx="426.2" cy="74.3" r="2.6" fill="#ED7D31" stroke="#ae5a21" stroke-width="0.8"/>
<circle cx="451.9" cy="71.9" r="2.6" fill="#ED7D31" stroke="#ae5a21" stroke-width="0.8"/>
<circle cx="409.5" cy="72.9" r="2.6" fill="#ED7D31" stroke="#ae5a21" stroke-width="0.8"/>
<circle cx="406.7" cy="68.2" r="2.6" fill="#ED7D31" stroke="#ae5a21" stroke-width="0.8"/>
<circle cx="410.9" cy="77.1" r="2.6" fill="#ED7D31" stroke="#ae5a21" stroke-width="0.8"/>
<circle cx="434.6" cy="80.3" r="2.6" fill="#ED7D31" stroke="#ae5a21" stroke-width="0.8"/>
<circle cx="427.6" cy="84.5" r="2.6" fill="#ED7D31" stroke="#ae5a21" stroke-width="0.8"/>
<circle cx="366.4" cy="105.8" r="2.6" fill="#ED7D31" stroke="#ae5a21" stroke-width="0.8"/>
<circle cx="359.7" cy="116.3" r="2.6" fill="#ED7D31" stroke="#ae5a21" stroke-width="0.8"/>
<circle cx="362.8" cy="113.6" r="2.6" fill="#ED7D31" stroke="#ae5a21" stroke-width="0.8"/>
<circle cx="366.4" cy="114.9" r="2.6" fill="#ED7D31" stroke="#ae5a21" stroke-width="0.8"/>
<circle cx="368.6" cy="124.8" r="2.6" fill="#ED7D31" stroke="#ae5a21" stroke-width="0.8"/>
<circle cx="342.2" cy="131.0" r="2.6" fill="#ED7D31" stroke="#ae5a21" stroke-width="0.8"/>
<circle cx="347.1" cy="131.0" r="2.6" fill="#ED7D31" stroke="#ae5a21" stroke-width="0.8"/>
<circle cx="361.9" cy="131.0" r="2.6" fill="#ED7D31" stroke="#ae5a21" stroke-width="0.8"/>
<circle cx="371.6" cy="131.5" r="2.6" fill="#ED7D31" stroke="#ae5a21" stroke-width="0.8"/>
<circle cx="386.7" cy="88.6" r="2.6" fill="#ED7D31" stroke="#ae5a21" stroke-width="0.8"/>
<circle cx="372.8" cy="92.9" r="2.6" fill="#ED7D31" stroke="#ae5a21" stroke-width="0.8"/>
<circle cx="378.2" cy="92.9" r="2.6" fill="#ED7D31" stroke="#ae5a21" stroke-width="0.8"/>
<circle cx="371.4" cy="97.1" r="2.6" fill="#ED7D31" stroke="#ae5a21" stroke-width="0.8"/>
<circle cx="372.8" cy="102.0" r="2.6" fill="#ED7D31" stroke="#ae5a21" stroke-width="0.8"/>
<circle cx="379.5" cy="101.6" r="2.6" fill="#ED7D31" stroke="#ae5a21" stroke-width="0.8"/>
<circle cx="379.1" cy="104.3" r="2.6" fill="#ED7D31" stroke="#ae5a21" stroke-width="0.8"/>
<circle cx="384.4" cy="106.5" r="2.6" fill="#ED7D31" stroke="#ae5a21" stroke-width="0.8"/>
<circle cx="400.6" cy="88.6" r="2.6" fill="#ED7D31" stroke="#ae5a21" stroke-width="0.8"/>
<circle cx="403.7" cy="93.1" r="2.6" fill="#ED7D31" stroke="#ae5a21" stroke-width="0.8"/>
<circle cx="398.3" cy="94.4" r="2.6" fill="#ED7D31" stroke="#ae5a21" stroke-width="0.8"/>
<circle cx="402.8" cy="99.3" r="2.6" fill="#ED7D31" stroke="#ae5a21" stroke-width="0.8"/>
<circle cx="407.3" cy="98.4" r="2.6" fill="#ED7D31" stroke="#ae5a21" stroke-width="0.8"/>
<circle cx="408.6" cy="88.6" r="2.6" fill="#ED7D31" stroke="#ae5a21" stroke-width="0.8"/>
<circle cx="411.8" cy="93.0" r="2.6" fill="#ED7D31" stroke="#ae5a21" stroke-width="0.8"/>
<circle cx="418.3" cy="91.2" r="2.6" fill="#ED7D31" stroke="#ae5a21" stroke-width="0.8"/>
<circle cx="413.2" cy="102.8" r="2.6" fill="#ED7D31" stroke="#ae5a21" stroke-width="0.8"/>
<circle cx="436.0" cy="101.9" r="2.6" fill="#ED7D31" stroke="#ae5a21" stroke-width="0.8"/>
<circle cx="444.9" cy="98.1" r="2.6" fill="#ED7D31" stroke="#ae5a21" stroke-width="0.8"/>
<circle cx="362.7" cy="143.4" r="2.6" fill="#ED7D31" stroke="#ae5a21" stroke-width="0.8"/>
<circle cx="336.9" cy="150.8" r="2.6" fill="#ED7D31" stroke="#ae5a21" stroke-width="0.8"/>
<circle cx="343.8" cy="149.2" r="2.6" fill="#ED7D31" stroke="#ae5a21" stroke-width="0.8"/>
<circle cx="346.6" cy="157.2" r="2.6" fill="#ED7D31" stroke="#ae5a21" stroke-width="0.8"/>
<circle cx="369.7" cy="114.9" r="2.6" fill="#ED7D31" stroke="#ae5a21" stroke-width="0.8"/>
<circle cx="373.7" cy="114.9" r="2.6" fill="#ED7D31" stroke="#ae5a21" stroke-width="0.8"/>
<circle cx="383.5" cy="114.9" r="2.6" fill="#ED7D31" stroke="#ae5a21" stroke-width="0.8"/>
<circle cx="385.8" cy="114.9" r="2.6" fill="#ED7D31" stroke="#ae5a21" stroke-width="0.8"/>
<circle cx="390.7" cy="114.9" r="2.6" fill="#ED7D31" stroke="#ae5a21" stroke-width="0.8"/>
<circle cx="393.0" cy="110.4" r="2.6" fill="#ED7D31" stroke="#ae5a21" stroke-width="0.8"/>
<circle cx="384.4" cy="118.6" r="2.6" fill="#ED7D31" stroke="#ae5a21" stroke-width="0.8"/>
<circle cx="379.1" cy="120.3" r="2.6" fill="#ED7D31" stroke="#ae5a21" stroke-width="0.8"/>
<circle cx="403.3" cy="112.8" r="2.6" fill="#ED7D31" stroke="#ae5a21" stroke-width="0.8"/>
<circle cx="408.2" cy="115.9" r="2.6" fill="#ED7D31" stroke="#ae5a21" stroke-width="0.8"/>
<circle cx="392.1" cy="128.5" r="2.6" fill="#ED7D31" stroke="#ae5a21" stroke-width="0.8"/>
<circle cx="419.7" cy="123.4" r="2.6" fill="#ED7D31" stroke="#ae5a21" stroke-width="0.8"/>
<circle cx="440.2" cy="117.3" r="2.6" fill="#ED7D31" stroke="#ae5a21" stroke-width="0.8"/>
<circle cx="443.9" cy="114.6" r="2.6" fill="#ED7D31" stroke="#ae5a21" stroke-width="0.8"/>
<circle cx="378.2" cy="131.2" r="2.6" fill="#ED7D31" stroke="#ae5a21" stroke-width="0.8"/>
<circle cx="384.0" cy="131.2" r="2.6" fill="#ED7D31" stroke="#ae5a21" stroke-width="0.8"/>
<circle cx="396.1" cy="133.5" r="2.6" fill="#ED7D31" stroke="#ae5a21" stroke-width="0.8"/>
<circle cx="375.5" cy="147.4" r="2.6" fill="#ED7D31" stroke="#ae5a21" stroke-width="0.8"/>
<circle cx="379.1" cy="147.4" r="2.6" fill="#ED7D31" stroke="#ae5a21" stroke-width="0.8"/>
<circle cx="391.2" cy="148.7" r="2.6" fill="#ED7D31" stroke="#ae5a21" stroke-width="0.8"/>
<circle cx="419.7" cy="131.4" r="2.6" fill="#ED7D31" stroke="#ae5a21" stroke-width="0.8"/>
<circle cx="315.9" cy="186.2" r="2.6" fill="#ED7D31" stroke="#ae5a21" stroke-width="0.8"/>
<circle cx="343.8" cy="186.2" r="2.6" fill="#ED7D31" stroke="#ae5a21" stroke-width="0.8"/>
<circle cx="363.5" cy="186.2" r="2.6" fill="#ED7D31" stroke="#ae5a21" stroke-width="0.8"/>
<circle cx="353.5" cy="176.0" r="2.6" fill="#ED7D31" stroke="#ae5a21" stroke-width="0.8"/>
<circle cx="368.1" cy="156.9" r="2.6" fill="#ED7D31" stroke="#ae5a21" stroke-width="0.8"/>
<circle cx="373.2" cy="185.8" r="2.6" fill="#ED7D31" stroke="#ae5a21" stroke-width="0.8"/>
<circle cx="428.4" cy="22.0" r="2.6" fill="#ED7D31" stroke="#ae5a21" stroke-width="0.8"/>
<circle cx="433.1" cy="21.6" r="2.6" fill="#ED7D31" stroke="#ae5a21" stroke-width="0.8"/>
<circle cx="437.0" cy="22.0" r="2.6" fill="#ED7D31" stroke="#ae5a21" stroke-width="0.8"/>
<circle cx="430.6" cy="24.5" r="2.6" fill="#ED7D31" stroke="#ae5a21" stroke-width="0.8"/>
<circle cx="435.6" cy="24.5" r="2.6" fill="#ED7D31" stroke="#ae5a21" stroke-width="0.8"/>
<circle cx="425.2" cy="26.6" r="2.6" fill="#ED7D31" stroke="#ae5a21" stroke-width="0.8"/>
<circle cx="429.8" cy="28.4" r="2.6" fill="#ED7D31" stroke="#ae5a21" stroke-width="0.8"/>
<circle cx="434.9" cy="27.3" r="2.6" fill="#ED7D31" stroke="#ae5a21" stroke-width="0.8"/>
<circle cx="425.5" cy="31.6" r="2.6" fill="#ED7D31" stroke="#ae5a21" stroke-width="0.8"/>
<circle cx="431.3" cy="31.3" r="2.6" fill="#ED7D31" stroke="#ae5a21" stroke-width="0.8"/>
<circle cx="436.3" cy="32.4" r="2.6" fill="#ED7D31" stroke="#ae5a21" stroke-width="0.8"/>
<circle cx="422.7" cy="35.6" r="2.6" fill="#ED7D31" stroke="#ae5a21" stroke-width="0.8"/>
<circle cx="427.7" cy="35.2" r="2.6" fill="#ED7D31" stroke="#ae5a21" stroke-width="0.8"/>
<circle cx="432.7" cy="35.2" r="2.6" fill="#ED7D31" stroke="#ae5a21" stroke-width="0.8"/>
<circle cx="437.0" cy="36.0" r="2.6" fill="#ED7D31" stroke="#ae5a21" stroke-width="0.8"/>
<circle cx="441.7" cy="21.2" r="2.6" fill="#ED7D31" stroke="#ae5a21" stroke-width="0.8"/>
<circle cx="447.0" cy="21.2" r="2.6" fill="#ED7D31" stroke="#ae5a21" stroke-width="0.8"/>
<circle cx="451.0" cy="22.7" r="2.6" fill="#ED7D31" stroke="#ae5a21" stroke-width="0.8"/>
<circle cx="438.8" cy="24.1" r="2.6" fill="#ED7D31" stroke="#ae5a21" stroke-width="0.8"/>
<circle cx="444.2" cy="24.5" r="2.6" fill="#ED7D31" stroke="#ae5a21" stroke-width="0.8"/>
<circle cx="448.1" cy="25.2" r="2.6" fill="#ED7D31" stroke="#ae5a21" stroke-width="0.8"/>
<circle cx="439.5" cy="29.5" r="2.6" fill="#ED7D31" stroke="#ae5a21" stroke-width="0.8"/>
<circle cx="445.6" cy="27.7" r="2.6" fill="#ED7D31" stroke="#ae5a21" stroke-width="0.8"/>
<circle cx="449.6" cy="28.8" r="2.6" fill="#ED7D31" stroke="#ae5a21" stroke-width="0.8"/>
<circle cx="442.7" cy="31.3" r="2.6" fill="#ED7D31" stroke="#ae5a21" stroke-width="0.8"/>
<circle cx="447.4" cy="31.3" r="2.6" fill="#ED7D31" stroke="#ae5a21" stroke-width="0.8"/>
<circle cx="430.9" cy="34.5" r="2.6" fill="#ED7D31" stroke="#ae5a21" stroke-width="0.8"/>
<circle cx="440.2" cy="35.2" r="2.6" fill="#ED7D31" stroke="#ae5a21" stroke-width="0.8"/>
<circle cx="444.5" cy="36.7" r="2.6" fill="#ED7D31" stroke="#ae5a21" stroke-width="0.8"/>
<circle cx="408.4" cy="46.5" r="2.6" fill="#ED7D31" stroke="#ae5a21" stroke-width="0.8"/>
<circle cx="410.6" cy="45.8" r="2.6" fill="#ED7D31" stroke="#ae5a21" stroke-width="0.8"/>
<circle cx="407.0" cy="49.4" r="2.6" fill="#ED7D31" stroke="#ae5a21" stroke-width="0.8"/>
<circle cx="404.8" cy="53.0" r="2.6" fill="#ED7D31" stroke="#ae5a21" stroke-width="0.8"/>
<circle cx="409.1" cy="53.0" r="2.6" fill="#ED7D31" stroke="#ae5a21" stroke-width="0.8"/>
<circle cx="417.6" cy="39.3" r="2.6" fill="#ED7D31" stroke="#ae5a21" stroke-width="0.8"/>
<circle cx="424.1" cy="38.6" r="2.6" fill="#ED7D31" stroke="#ae5a21" stroke-width="0.8"/>
<circle cx="427.7" cy="40.7" r="2.6" fill="#ED7D31" stroke="#ae5a21" stroke-width="0.8"/>
<circle cx="434.1" cy="40.7" r="2.6" fill="#ED7D31" stroke="#ae5a21" stroke-width="0.8"/>
<circle cx="415.5" cy="42.9" r="2.6" fill="#ED7D31" stroke="#ae5a21" stroke-width="0.8"/>
<circle cx="419.8" cy="42.2" r="2.6" fill="#ED7D31" stroke="#ae5a21" stroke-width="0.8"/>
<circle cx="424.8" cy="44.3" r="2.6" fill="#ED7D31" stroke="#ae5a21" stroke-width="0.8"/>
<circle cx="429.8" cy="43.6" r="2.6" fill="#ED7D31" stroke="#ae5a21" stroke-width="0.8"/>
<circle cx="432.0" cy="46.5" r="2.6" fill="#ED7D31" stroke="#ae5a21" stroke-width="0.8"/>
<circle cx="412.6" cy="47.2" r="2.6" fill="#ED7D31" stroke="#ae5a21" stroke-width="0.8"/>
<circle cx="417.6" cy="46.5" r="2.6" fill="#ED7D31" stroke="#ae5a21" stroke-width="0.8"/>
<circle cx="423.4" cy="47.6" r="2.6" fill="#ED7D31" stroke="#ae5a21" stroke-width="0.8"/>
<circle cx="428.4" cy="49.4" r="2.6" fill="#ED7D31" stroke="#ae5a21" stroke-width="0.8"/>
<circle cx="416.9" cy="50.8" r="2.6" fill="#ED7D31" stroke="#ae5a21" stroke-width="0.8"/>
<circle cx="422.7" cy="51.5" r="2.6" fill="#ED7D31" stroke="#ae5a21" stroke-width="0.8"/>
<circle cx="427.0" cy="52.2" r="2.6" fill="#ED7D31" stroke="#ae5a21" stroke-width="0.8"/>
<circle cx="409.0" cy="51.5" r="2.6" fill="#ED7D31" stroke="#ae5a21" stroke-width="0.8"/>
<circle cx="420.5" cy="54.4" r="2.6" fill="#ED7D31" stroke="#ae5a21" stroke-width="0.8"/>
<circle cx="436.3" cy="46.5" r="2.6" fill="#ED7D31" stroke="#ae5a21" stroke-width="0.8"/>
<circle cx="437.0" cy="52.2" r="2.6" fill="#ED7D31" stroke="#ae5a21" stroke-width="0.8"/>
<circle cx="429.5" cy="36.4" r="2.6" fill="#ED7D31" stroke="#ae5a21" stroke-width="0.8"/>
<circle cx="436.6" cy="37.9" r="2.6" fill="#ED7D31" stroke="#ae5a21" stroke-width="0.8"/>
<circle cx="440.9" cy="37.2" r="2.6" fill="#ED7D31" stroke="#ae5a21" stroke-width="0.8"/>
<circle cx="438.1" cy="41.5" r="2.6" fill="#ED7D31" stroke="#ae5a21" stroke-width="0.8"/>
<circle cx="430.2" cy="41.5" r="2.6" fill="#ED7D31" stroke="#ae5a21" stroke-width="0.8"/>
<circle cx="429.5" cy="45.8" r="2.6" fill="#ED7D31" stroke="#ae5a21" stroke-width="0.8"/>
<circle cx="431.6" cy="48.6" r="2.6" fill="#ED7D31" stroke="#ae5a21" stroke-width="0.8"/>
<circle cx="438.4" cy="47.2" r="2.6" fill="#ED7D31" stroke="#ae5a21" stroke-width="0.8"/>
<circle cx="440.2" cy="50.1" r="2.6" fill="#ED7D31" stroke="#ae5a21" stroke-width="0.8"/>
<circle cx="428.7" cy="51.5" r="2.6" fill="#ED7D31" stroke="#ae5a21" stroke-width="0.8"/>
<circle cx="435.2" cy="54.0" r="2.6" fill="#ED7D31" stroke="#ae5a21" stroke-width="0.8"/>
<circle cx="451.0" cy="53.0" r="2.6" fill="#ED7D31" stroke="#ae5a21" stroke-width="0.8"/>
<g transform="translate(307.7,217.3) scale(1,1.12)"><text x="0" y="0" font-size="13.5" fill="#222"><tspan font-style="italic">CL</tspan><tspan font-style="italic" font-size="9" dy="2.5">r</tspan><tspan dy="-2.5">_log (mL/min/kg)</tspan></text></g>
<text transform="translate(250.7,126.3) rotate(-90)" font-size="14.2" fill="#222"><tspan font-style="italic" font-size="16">f</tspan><tspan font-style="italic" font-size="11.3" dy="3">up</tspan><tspan dy="-3">_log</tspan></text>
<rect x="315.5" y="229" width="122.5" height="48.5" fill="#fff" stroke="#595959" stroke-width="1.1"/>
<circle cx="323.7" cy="236.9" r="3" fill="#4472C4" stroke="#2f528f" stroke-width="0.5"/>
<g transform="translate(330,242.8) scale(1,1.12)"><text x="0" y="0" font-size="12.1" fill="#222">R (n = 104, <tspan font-style="italic">r</tspan> = 0.72)</text></g>
<circle cx="323.7" cy="252.2" r="3" fill="#70AD47" stroke="#4a7a2c" stroke-width="0.5"/>
<g transform="translate(330,258.1) scale(1,1.12)"><text x="0" y="0" font-size="12.1" fill="#222">IM (n = 96, <tspan font-style="italic">r</tspan> = 0.98)</text></g>
<circle cx="323.7" cy="267.6" r="3" fill="#ED7D31" stroke="#ae5a21" stroke-width="0.5"/>
<g transform="translate(330,273.5) scale(1,1.12)"><text x="0" y="0" font-size="12.1" fill="#222">S (n = 201, <tspan font-style="italic">r</tspan> = 0.80)</text></g>
<g transform="translate(469.3,14.8) scale(1,1.12)"><text x="0" y="0" font-size="21.6" font-weight="bold" fill="#000">(c)</text></g>
<line x1="502" y1="182.70" x2="697" y2="182.70" stroke="#8a8a8a" stroke-width="0.9" stroke-dasharray="0.9 1.1"/>
<line x1="499" y1="182.70" x2="501.6" y2="182.70" stroke="#555" stroke-width="0.9"/>
<text x="497.6" y="184.70" text-anchor="end" font-family="Liberation Sans,sans-serif" font-size="5.6" fill="#505050">0.00</text>
<line x1="502" y1="144.20" x2="697" y2="144.20" stroke="#8a8a8a" stroke-width="0.9" stroke-dasharray="0.9 1.1"/>
<line x1="499" y1="144.20" x2="501.6" y2="144.20" stroke="#555" stroke-width="0.9"/>
<text x="497.6" y="146.20" text-anchor="end" font-family="Liberation Sans,sans-serif" font-size="5.6" fill="#505050">0.25</text>
<line x1="502" y1="105.70" x2="697" y2="105.70" stroke="#8a8a8a" stroke-width="0.9" stroke-dasharray="0.9 1.1"/>
<line x1="499" y1="105.70" x2="501.6" y2="105.70" stroke="#555" stroke-width="0.9"/>
<text x="497.6" y="107.70" text-anchor="end" font-family="Liberation Sans,sans-serif" font-size="5.6" fill="#505050">0.50</text>
<line x1="502" y1="67.20" x2="697" y2="67.20" stroke="#8a8a8a" stroke-width="0.9" stroke-dasharray="0.9 1.1"/>
<line x1="499" y1="67.20" x2="501.6" y2="67.20" stroke="#555" stroke-width="0.9"/>
<text x="497.6" y="69.20" text-anchor="end" font-family="Liberation Sans,sans-serif" font-size="5.6" fill="#505050">0.75</text>
<line x1="502" y1="28.70" x2="697" y2="28.70" stroke="#8a8a8a" stroke-width="0.9" stroke-dasharray="0.9 1.1"/>
<line x1="499" y1="28.70" x2="501.6" y2="28.70" stroke="#555" stroke-width="0.9"/>
<text x="497.6" y="30.70" text-anchor="end" font-family="Liberation Sans,sans-serif" font-size="5.6" fill="#505050">1.00</text>
<line x1="538.5" y1="21.5" x2="538.5" y2="189.5" stroke="#8a8a8a" stroke-width="0.9" stroke-dasharray="0.9 1.1"/>
<line x1="599.5" y1="21.5" x2="599.5" y2="189.5" stroke="#8a8a8a" stroke-width="0.9" stroke-dasharray="0.9 1.1"/>
<line x1="660.5" y1="21.5" x2="660.5" y2="189.5" stroke="#8a8a8a" stroke-width="0.9" stroke-dasharray="0.9 1.1"/>
<line x1="538.5" y1="28.70" x2="538.5" y2="182.70" stroke="#8a8a8a" stroke-width="1"/>
<rect x="528.5" y="74.90" width="19.0" height="92.40" fill="#dadada" stroke="#7a7a7a" stroke-width="1"/>
<line x1="528.5" y1="124.49" x2="547.5" y2="124.49" stroke="#2a2a2a" stroke-width="1.3"/>
<line x1="599.5" y1="28.70" x2="599.5" y2="182.70" stroke="#8a8a8a" stroke-width="1"/>
<rect x="590.5" y="44.10" width="18.0" height="115.50" fill="#dadada" stroke="#7a7a7a" stroke-width="1"/>
<line x1="590.5" y1="84.14" x2="608.5" y2="84.14" stroke="#2a2a2a" stroke-width="1.3"/>
<line x1="660.5" y1="28.70" x2="660.5" y2="182.70" stroke="#8a8a8a" stroke-width="1"/>
<rect x="651.5" y="64.12" width="19.0" height="110.88" fill="#dadada" stroke="#7a7a7a" stroke-width="1"/>
<line x1="651.5" y1="134.19" x2="670.5" y2="134.19" stroke="#2a2a2a" stroke-width="1.3"/>
<line x1="501.6" y1="21.5" x2="697" y2="21.5" stroke="#555" stroke-width="1"/>
<line x1="501.6" y1="21.3" x2="501.6" y2="189.7" stroke="#777" stroke-width="1.1"/>
<line x1="501" y1="189.7" x2="698" y2="189.7" stroke="#333" stroke-width="1.6"/>
<line x1="697.5" y1="21" x2="697.5" y2="190.5" stroke="#1a1a1a" stroke-width="1.1"/>
<line x1="538.2" y1="189.7" x2="538.2" y2="192" stroke="#555" stroke-width="0.9"/>
<line x1="599.5" y1="189.7" x2="599.5" y2="192" stroke="#555" stroke-width="0.9"/>
<line x1="660.7" y1="189.7" x2="660.7" y2="192" stroke="#555" stroke-width="0.9"/>
<path d="M540.5 18 V11 Q540.5 9.5 542 9.5 H597 Q598.5 9.5 598.5 11 V18" fill="none" stroke="#333" stroke-width="1"/>
<path d="M602.5 18 V11 Q602.5 9.5 604 9.5 H659 Q660.5 9.5 660.5 11 V18" fill="none" stroke="#333" stroke-width="1"/>
<text x="569" y="8.8" text-anchor="middle" font-size="13" fill="#222">*</text>
<text x="630.3" y="8.8" text-anchor="middle" font-size="13" fill="#222">**</text>
<text x="537.4" y="207" text-anchor="middle" font-size="12" fill="#222">R</text>
<text x="599" y="207" text-anchor="middle" font-size="12" fill="#222">IM</text>
<text x="662" y="207" text-anchor="middle" font-size="12" fill="#222">S</text>
<g transform="translate(549.3,227.6) scale(1,1.12)"><text x="0" y="0" font-size="13.5" fill="#222">CR (Excretion) Type</text></g>
<g transform="translate(562,249) scale(1,1.12)"><text x="0" y="0" font-size="10.7" fill="#222">*; p&lt;0.05, **; p&lt;0.01</text></g>
<text transform="translate(481,127.3) rotate(-90)" font-size="11.5" fill="#222"><tspan font-style="italic" font-size="13.5">f</tspan><tspan font-style="italic" font-size="10.5" dy="2.3">u,p</tspan><tspan dy="-2.3">_obs</tspan></text>
</svg></body></html>
